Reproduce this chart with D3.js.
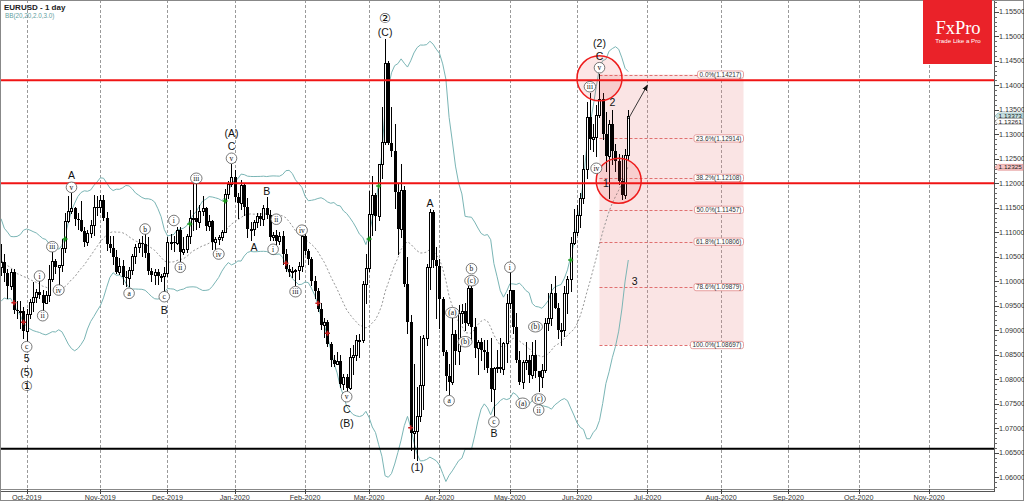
<!DOCTYPE html>
<html><head><meta charset="utf-8">
<script src="https://cdn.jsdelivr.net/npm/d3@7"></script>
<style>html,body{margin:0;padding:0;background:#fff;overflow:hidden}svg{display:block}</style>
</head><body><svg id="c" width="1024" height="501"></svg>
<script>
// ---------------- DATA ----------------
const title = "EURUSD - 1 day";
const indicatorLabel = "BB(20,20,2.0,3.0)";
const firstCandleDate = "2019-09-18";
const holidays = ["2019-12-25", "2020-01-01", "2020-12-25"];

// closes before the first visible candle (only used for the 20-day bands)
const warmupClose = [1.1098,1.1080,1.1143,1.1096,1.1090,1.1078,1.1057,1.0989,1.0970,1.0973,1.1033,1.1034,1.1027,1.1045,1.1043,1.1010,1.1063,1.1073,1.1000,1.1073];

const openP = [
  1.1070,1.1028,1.1040,1.1017,1.0991,1.1019,1.0941,1.0939,1.0940,
  1.0898,1.0933,1.0958,1.0967,1.0978,1.0972,1.0956,1.0971,1.1005,1.1042,1.1030,1.1033,1.1068,1.1123,1.1143,1.1150,1.1126,1.1124,1.1103,1.1080,1.1098,1.1114,1.1152,
  1.1151,1.1166,1.1128,1.1075,1.1067,1.1050,1.1018,1.1032,1.1008,1.1006,1.1022,1.1052,1.1070,1.1077,1.1075,1.1057,1.1020,1.1013,1.1018,1.1010,1.1010,
  1.1017,1.1079,1.1081,1.1077,1.1104,1.1059,1.1065,1.1093,1.1129,1.1130,1.1120,1.1143,1.1149,1.1112,1.1123,1.1080,1.1087,1.1090,1.1100,1.1177,1.1199,
  1.1213,1.1172,1.1160,1.1196,1.1152,1.1106,1.1107,1.1120,1.1134,1.1127,1.1150,1.1136,1.1090,1.1095,1.1083,1.1092,1.1055,1.1025,1.1019,1.1020,1.1022,1.1032,
  1.1093,1.1061,1.1046,1.1000,1.0980,1.0944,1.0910,1.0917,1.0872,1.0840,1.0830,1.0838,1.0790,1.0805,1.0782,1.0846,1.0850,1.0880,1.0880,1.0995,
  1.1026,1.1137,1.1175,1.1134,1.1240,1.1285,1.1446,1.1283,1.1265,1.1182,1.1107,1.1187,1.0995,1.0916,1.0690,1.0695,1.0724,1.0789,1.0885,1.1030,1.1141,1.1044,
  1.1031,1.0963,1.0855,1.0806,1.0794,1.0892,1.0857,1.0936,1.0939,1.0914,1.0986,1.0906,1.0863,1.0875,1.0860,1.0855,1.0822,1.0780,1.0822,1.0825,1.0820,1.0873,
  1.0955,1.0982,1.0907,1.0840,1.0795,1.0835,1.0840,1.0808,1.0849,1.0817,1.0805,1.0819,1.0915,1.0925,1.0976,1.0946,1.0900,1.0900,1.0975,1.1005,1.1078,
  1.1100,1.1135,1.1170,1.1230,1.1335,1.1290,1.1295,1.1340,1.1372,1.1300,1.1255,1.1320,1.1265,1.1245,1.1205,1.1175,1.1257
];
const highP = [
  1.1075,1.1075,1.1055,1.1025,1.1025,1.1025,1.0960,1.0960,1.0948,
  1.0943,1.0963,1.0999,1.0985,1.1000,1.0983,1.0980,1.1034,1.1063,1.1046,1.1033,1.1086,1.1140,1.1173,1.1179,1.1152,1.1140,1.1163,1.1110,1.1105,1.1125,1.1175,1.1174,
  1.1176,1.1176,1.1142,1.1092,1.1092,1.1063,1.1047,1.1043,1.1020,1.1030,1.1056,1.1076,1.1087,1.1092,1.1097,1.1090,1.1026,1.1025,1.1024,1.1015,1.1030,
  1.1090,1.1097,1.1092,1.1110,1.1110,1.1090,1.1097,1.1145,1.1200,1.1200,1.1155,1.1174,1.1151,1.1135,1.1125,1.1090,1.1095,1.1105,1.1188,1.1205,1.1240,
  1.1227,1.1180,1.1207,1.1200,1.1170,1.1120,1.1125,1.1140,1.1140,1.1155,1.1172,1.1145,1.1100,1.1105,1.1100,1.1102,1.1065,1.1033,1.1030,1.1025,1.1040,1.1096,
  1.1098,1.1065,1.1050,1.1010,1.0986,1.0955,1.0925,1.0920,1.0875,1.0850,1.0855,1.0850,1.0810,1.0810,1.0863,1.0870,1.0890,1.0892,1.1000,1.1055,
  1.1185,1.1214,1.1180,1.1240,1.1355,1.1495,1.1450,1.1355,1.1320,1.1200,1.1240,1.1195,1.1050,1.0930,1.0832,1.0784,1.0888,1.0890,1.1035,1.1148,1.1146,1.1070,
  1.1046,1.0967,1.0860,1.0830,1.0925,1.0900,1.0952,1.0954,1.0955,1.0990,1.0990,1.0925,1.0880,1.0885,1.0880,1.0880,1.0885,1.0825,1.0860,1.0885,1.0875,1.0973,
  1.1019,1.0982,1.0935,1.0857,1.0840,1.0875,1.0850,1.0875,1.0880,1.0817,1.0830,1.0925,1.0975,1.0995,1.1010,1.0955,1.0915,1.0990,1.1010,1.1090,1.1147,
  1.1155,1.1180,1.1258,1.1365,1.1385,1.1320,1.1360,1.1422,1.1385,1.1345,1.1328,1.1350,1.1280,1.1260,1.1257,1.1270,1.1349
];
const lowP = [
  1.1013,1.1013,1.1000,1.0966,1.0985,1.0935,1.0925,1.0905,1.0885,
  1.0879,1.0925,1.0940,1.0957,1.0965,1.0940,1.0955,1.0960,1.1000,1.1017,1.0990,1.1020,1.1060,1.1121,1.1140,1.1115,1.1106,1.1103,1.1071,1.1073,1.1090,1.1095,1.1135,
  1.1141,1.1125,1.1064,1.1060,1.1036,1.1016,1.1014,1.0995,1.0990,1.0990,1.1014,1.1037,1.1060,1.1051,1.1050,1.1015,1.1000,1.0995,1.0995,1.1000,1.0981,
  1.1010,1.1066,1.1062,1.1075,1.1040,1.1055,1.1060,1.1077,1.1105,1.1106,1.1110,1.1135,1.1105,1.1105,1.1066,1.1064,1.1075,1.1085,1.1100,1.1170,1.1195,
  1.1163,1.1128,1.1147,1.1135,1.1090,1.1085,1.1095,1.1110,1.1115,1.1115,1.1130,1.1085,1.1085,1.1075,1.1075,1.1036,1.1020,1.1010,1.1008,1.0992,1.1005,1.1020,
  1.1055,1.1035,1.0993,1.0965,1.0940,1.0903,1.0886,1.0868,1.0826,1.0826,1.0830,1.0785,1.0780,1.0778,1.0780,1.0810,1.0840,1.0845,1.0875,1.0955,
  1.1020,1.1095,1.1104,1.1125,1.1210,1.1280,1.1280,1.1255,1.1150,1.1055,1.1090,1.0990,1.0895,1.0655,1.0640,1.0636,1.0715,1.0740,1.0870,1.0985,1.1030,1.0925,
  1.0905,1.0850,1.0778,1.0770,1.0790,1.0830,1.0830,1.0915,1.0900,1.0910,1.0880,1.0845,1.0810,1.0840,1.0820,1.0815,1.0755,1.0727,1.0815,1.0815,1.0810,1.0835,
  1.0945,1.0895,1.0835,1.0790,1.0782,1.0820,1.0795,1.0803,1.0805,1.0775,1.0785,1.0815,1.0900,1.0910,1.0945,1.0885,1.0870,1.0888,1.0935,1.0980,1.1075,
  1.1095,1.1110,1.1160,1.1210,1.1270,1.1265,1.1255,1.1335,1.1290,1.1225,1.1170,1.1240,1.1225,1.1198,1.1168,1.1170,1.1250
];
const closeP = [
  1.1028,1.1040,1.1017,1.0991,1.1019,1.0941,1.0939,1.0940,1.0898,
  1.0933,1.0958,1.0967,1.0978,1.0972,1.0956,1.0971,1.1005,1.1042,1.1030,1.1033,1.1068,1.1123,1.1143,1.1150,1.1126,1.1124,1.1103,1.1080,1.1098,1.1114,1.1152,1.1151,
  1.1166,1.1128,1.1075,1.1067,1.1050,1.1018,1.1032,1.1008,1.1006,1.1022,1.1052,1.1070,1.1077,1.1075,1.1057,1.1020,1.1013,1.1018,1.1010,1.1010,1.1017,
  1.1079,1.1081,1.1077,1.1104,1.1059,1.1065,1.1093,1.1129,1.1130,1.1120,1.1143,1.1149,1.1112,1.1123,1.1080,1.1087,1.1090,1.1100,1.1177,1.1199,1.1213,
  1.1172,1.1160,1.1196,1.1152,1.1106,1.1107,1.1120,1.1134,1.1127,1.1150,1.1136,1.1090,1.1095,1.1083,1.1092,1.1055,1.1025,1.1019,1.1020,1.1022,1.1032,1.1093,
  1.1061,1.1046,1.1000,1.0980,1.0944,1.0910,1.0917,1.0872,1.0840,1.0830,1.0838,1.0790,1.0805,1.0782,1.0846,1.0850,1.0880,1.0880,1.0995,1.1026,
  1.1137,1.1175,1.1134,1.1240,1.1285,1.1446,1.1283,1.1265,1.1182,1.1107,1.1187,1.0995,1.0916,1.0690,1.0695,1.0724,1.0789,1.0885,1.1030,1.1141,1.1044,1.1031,
  1.0963,1.0855,1.0806,1.0794,1.0892,1.0857,1.0936,1.0939,1.0914,1.0986,1.0906,1.0863,1.0875,1.0860,1.0855,1.0822,1.0780,1.0822,1.0825,1.0820,1.0873,1.0955,
  1.0982,1.0907,1.0840,1.0795,1.0835,1.0840,1.0808,1.0849,1.0817,1.0805,1.0819,1.0915,1.0925,1.0976,1.0946,1.0900,1.0900,1.0975,1.1005,1.1078,1.1100,
  1.1135,1.1170,1.1230,1.1335,1.1290,1.1295,1.1340,1.1372,1.1300,1.1255,1.1320,1.1265,1.1245,1.1205,1.1175,1.1257,1.1337
];

// axes
const priceTicks = [1.060,1.065,1.070,1.075,1.080,1.085,1.090,1.095,1.100,1.105,1.110,1.115,1.120,1.125,1.130,1.135,1.140,1.145,1.150,1.155];
const monthTicks = ["2019-10","2019-11","2019-12","2020-01","2020-02","2020-03","2020-04","2020-05","2020-06","2020-07","2020-08","2020-09","2020-10","2020-11"];
const monthLabels = ["Oct-2019","Nov-2019","Dec-2019","Jan-2020","Feb-2020","Mar-2020","Apr-2020","May-2020","Jun-2020","Jul-2020","Aug-2020","Sep-2020","Oct-2020","Nov-2020"];
const barView = [0.66, 311.28];            // visible bar-index window
const priceView = [1.05759, 1.15739];      // visible price window

// horizontal levels
const resistanceLevels = [1.1410, 1.1200];
const supportLevels = [1.0658];

// Fibonacci retracement
const fibRatios = [0, 0.236, 0.382, 0.5, 0.618, 0.786, 1.0];
const fibPrices = [1.14217, 1.12914, 1.12108, 1.11457, 1.10806, 1.09879, 1.08697];
const fibStart = "2020-06-10", fibEnd = "2020-08-12";

// right-axis price markers
const markerPrices = [1.13373, 1.13261, 1.12325];
const markerKinds = ["bid", "ask", "alert"];

// highlight circles and projection arrow
const circleDates = ["2020-06-10", "2020-06-18"];
const circlePrices = [1.14141, 1.12051];
const arrowDates = ["2020-06-23", "2020-07-01"];
const arrowPrices = [1.1331, 1.14004];

// signal crosses
const signalDates = ["2019-09-25","2019-09-30","2019-10-17","2019-12-11","2019-12-27","2020-01-24","2020-02-07","2020-02-12","2020-03-02","2020-03-05","2020-03-19","2020-05-28"];
const signalPrices = [1.09561,1.09161,1.10861,1.11167,1.11637,1.10365,1.09549,1.08937,1.10861,1.11943,1.07010,1.10433];
const signalKinds = ["sell","sell","buy","buy","buy","sell","sell","sell","buy","buy","sell","buy"];

// wave labels (plain)
const waveText  = ["5","(5)","①","A","B","C","(A)","A","B","C","(B)","②","(C)","(1)","A","B","(2)","C","2","1","3"];
const waveDates = ["2019-10-01","2019-10-01","2019-10-01","2019-10-21","2019-11-29","2019-12-31","2019-12-31","2020-01-10","2020-01-16","2020-02-20","2020-02-20","2020-03-09","2020-03-09","2020-03-23","2020-03-27","2020-04-24","2020-06-10","2020-06-10","2020-06-16","2020-06-12","2020-06-25"];
const wavePrices = [1.08433,1.08147,1.07861,1.12167,1.09422,1.12759,1.13024,1.10698,1.11847,1.07398,1.07112,1.15371,1.15086,1.06214,1.11590,1.06902,1.14861,1.14606,1.13663,1.11998,1.10004];

// wave labels (circled)
const subText  = ["c","i","ii","iii","iv","v","a","b","c","i","ii","iii","iv","v","ii","i","iii","iv","v","(a)","a","(b)","b","(c)","c","i","(a)","(b)","(c)","ii","v","iii","iv"];
const subDates = ["2019-10-01","2019-10-07","2019-10-08","2019-10-11","2019-10-15","2019-10-21","2019-11-14","2019-11-21","2019-11-29","2019-12-04","2019-12-06","2019-12-13","2019-12-24","2019-12-31","2020-01-21","2020-01-20","2020-01-29","2020-01-31","2020-02-20","2020-04-07","2020-04-06","2020-04-13","2020-04-15","2020-04-15","2020-04-24","2020-05-01","2020-05-07","2020-05-13","2020-05-14","2020-05-14","2020-06-10","2020-06-05","2020-06-09"];
const subPrices = [1.08663,1.10106,1.09296,1.10704,1.09820,1.11916,1.09753,1.11065,1.09684,1.11239,1.10284,1.12100,1.10555,1.12508,1.11265,1.10651,1.09786,1.11041,1.07643,1.09357,1.07561,1.08765,1.10255,1.10010,1.07129,1.10284,1.07508,1.09071,1.07596,1.07371,1.14357,1.13969,1.12304];

// ---------------- CALENDAR ----------------
const fmt = d3.utcFormat("%Y-%m-%d");
const calendar = d3.utcDay.range(new Date("2019-09-18T00:00:00Z"), new Date("2020-12-31T00:00:00Z"))
  .filter(d => d.getUTCDay() !== 0 && d.getUTCDay() !== 6 && !holidays.includes(fmt(d)));
const idx = new Map(calendar.map((d, i) => [fmt(d), i]));
const i0 = idx.get(firstCandleDate);

// ---------------- SCALES ----------------
const plotR = 994, plotB = 489;
const x = d3.scaleLinear().domain(barView).range([0, plotR]);
const y = d3.scaleLinear().domain(priceView).range([plotB, 0]);
const X = d => x(idx.get(d));

const svg = d3.select("#c");
svg.append("rect").attr("width", 1024).attr("height", 501).attr("fill", "#fff");
svg.append("defs").append("clipPath").attr("id", "plot")
  .append("rect").attr("x", 0).attr("y", 0).attr("width", plotR).attr("height", plotB);
const plot = svg.append("g").attr("clip-path", "url(#plot)");

// month grid
const monthIdx = monthTicks.map(m => calendar.findIndex(d => fmt(d).startsWith(m)));
plot.append("g").selectAll("line").data(monthIdx).join("line")
  .attr("x1", d => Math.round(x(d)) + 0.5).attr("x2", d => Math.round(x(d)) + 0.5)
  .attr("y1", 0).attr("y2", plotB)
  .attr("stroke", "#9a9a9a").attr("stroke-width", 1).attr("stroke-dasharray", "3,2");

// Fibonacci box
const fx0 = X(fibStart), fx1 = X(fibEnd);
plot.append("rect").attr("x", fx0).attr("y", y(fibPrices[0]))
  .attr("width", fx1 - fx0).attr("height", y(fibPrices[fibPrices.length - 1]) - y(fibPrices[0]))
  .attr("fill", "rgba(232,130,130,0.22)");
plot.append("g").selectAll("line").data(fibPrices).join("line")
  .attr("x1", fx0).attr("x2", fx1)
  .attr("y1", d => Math.round(y(d)) + 0.5).attr("y2", d => Math.round(y(d)) + 0.5)
  .attr("stroke", "#e07070").attr("stroke-width", 1).attr("stroke-dasharray", "3,2");

// Bollinger bands (20, 2.0) from closes
const allClose = warmupClose.concat(closeP);
const bands = closeP.map((c, i) => {
  const w = allClose.slice(i + warmupClose.length - 19, i + warmupClose.length + 1);
  const m = d3.mean(w);
  const sd = Math.sqrt(d3.mean(w, v => (v - m) * (v - m)));
  return { i: i0 + i, mid: m, up: m + 2 * sd, lo: m - 2 * sd };
});
const bandLine = key => d3.line().x(d => x(d.i)).y(d => y(d[key]));
plot.append("path").datum(bands).attr("d", bandLine("up")).attr("fill", "none").attr("stroke", "#7ab5b5").attr("stroke-width", 1);
plot.append("path").datum(bands).attr("d", bandLine("lo")).attr("fill", "none").attr("stroke", "#7ab5b5").attr("stroke-width", 1);
plot.append("path").datum(bands).attr("d", bandLine("mid")).attr("fill", "none").attr("stroke", "#8a8a8a").attr("stroke-width", 0.9).attr("stroke-dasharray", "2,2");

// candles
const candles = closeP.map((c, i) => ({ i: i0 + i, o: openP[i], h: highP[i], l: lowP[i], c }));
const cg = plot.append("g").attr("shape-rendering", "crispEdges");
const cx = d => Math.round(x(d.i));
cg.selectAll("line").data(candles).join("line")
  .attr("x1", d => cx(d) + 0.5).attr("x2", d => cx(d) + 0.5)
  .attr("y1", d => Math.round(y(d.h))).attr("y2", d => Math.round(y(d.l)) + 1)
  .attr("stroke", "#000").attr("stroke-width", 1);
cg.selectAll("rect").data(candles).join("rect")
  .attr("x", d => d.c >= d.o ? cx(d) - 0.5 : cx(d) - 1)
  .attr("y", d => Math.round(y(Math.max(d.o, d.c))) + (d.c >= d.o ? 0.5 : 0))
  .attr("width", d => d.c >= d.o ? 2 : 3)
  .attr("height", d => Math.max(1, Math.round(y(Math.min(d.o, d.c))) - Math.round(y(Math.max(d.o, d.c)))))
  .attr("fill", d => d.c >= d.o ? "#fff" : "#000")
  .attr("stroke", d => d.c >= d.o ? "#000" : "none").attr("stroke-width", 1);

// horizontal levels
plot.append("g").selectAll("line").data(resistanceLevels).join("line")
  .attr("x1", 0).attr("x2", plotR).attr("y1", d => y(d)).attr("y2", d => y(d))
  .attr("stroke", "#f01414").attr("stroke-width", 2);
plot.append("g").selectAll("line").data(supportLevels).join("line")
  .attr("x1", 0).attr("x2", plotR).attr("y1", d => y(d)).attr("y2", d => y(d))
  .attr("stroke", "#000").attr("stroke-width", 2);

// signals
plot.append("g").selectAll("path").data(signalDates).join("path")
  .attr("transform", (d, i) => `translate(${X(d)},${y(signalPrices[i])})`)
  .attr("d", "M-2.5,0H2.5M0,-2.5V2.5")
  .attr("stroke", (d, i) => signalKinds[i] === "buy" ? "#1a9a1a" : "#c81e1e").attr("stroke-width", 1.6);

// highlight circles
plot.append("g").selectAll("circle").data(circleDates).join("circle")
  .attr("cx", d => X(d)).attr("cy", (d, i) => y(circlePrices[i])).attr("r", 22.5)
  .attr("fill", "rgba(240,60,60,0.13)").attr("stroke", "#ee1c1c").attr("stroke-width", 1.5);

// arrow
svg.append("defs").append("marker").attr("id", "ah").attr("viewBox", "0 0 10 10")
  .attr("refX", 9).attr("refY", 5).attr("markerWidth", 7).attr("markerHeight", 7).attr("orient", "auto")
  .append("path").attr("d", "M0,1L10,5L0,9Z").attr("fill", "#111");
plot.append("line").attr("x1", X(arrowDates[0])).attr("y1", y(arrowPrices[0]))
  .attr("x2", X(arrowDates[1])).attr("y2", y(arrowPrices[1]))
  .attr("stroke", "#222").attr("stroke-width", 0.9).attr("marker-end", "url(#ah)");

// Fib labels
const fl = plot.append("g");
fibPrices.forEach((p, k) => {
  const t = fl.append("text").attr("x", fx1 - 2).attr("y", y(p) + 2.3)
    .attr("text-anchor", "end").attr("font-family", "Liberation Sans, Arial, sans-serif")
    .attr("font-size", 6.4).attr("fill", "#333")
    .text(`${(fibRatios[k] * 100).toFixed(1)}%(${p.toFixed(5)})`);
  const w = t.node().getComputedTextLength();
  fl.insert("rect", "text").attr("x", fx1 - w - 4).attr("y", y(p) - 3.6).attr("width", w + 4).attr("height", 7.2)
    .attr("rx", 2).attr("fill", "#fff").attr("stroke", "#e08a8a").attr("stroke-width", 0.8);
});

// wave labels
const ag = plot.append("g");
waveText.forEach((t, k) => {
  const circ = t === "①" || t === "②";
  ag.append("text").attr("x", X(waveDates[k])).attr("y", y(wavePrices[k]))
    .attr("text-anchor", "middle").attr("dominant-baseline", "central")
    .attr("font-family", circ ? "DejaVu Sans, sans-serif" : "Liberation Sans, Arial, sans-serif")
    .attr("font-size", circ ? 13.5 : 10.5).attr("fill", "#111").text(t);
});
subText.forEach((t, k) => {
  const g = ag.append("g").attr("transform", `translate(${X(subDates[k])},${y(subPrices[k])})`);
  const e = g.append("ellipse").attr("fill", "#fff").attr("stroke", "#555").attr("stroke-width", 0.8);
  const tx = g.append("text").attr("text-anchor", "middle").attr("dominant-baseline", "central")
    .attr("font-family", "Liberation Serif, Times New Roman, serif").attr("font-size", 7.5).attr("fill", "#111").text(t);
  const w = tx.node().getComputedTextLength();
  e.attr("rx", Math.max(5.3, w / 2 + 2.6)).attr("ry", 5.3);
});

// frame & axes
svg.append("rect").attr("x", 0.5).attr("y", 0.5).attr("width", plotR).attr("height", plotB)
  .attr("fill", "none").attr("stroke", "#888").attr("stroke-width", 1);
svg.append("line").attr("x1", 0).attr("x2", plotR).attr("y1", plotB + 2.5).attr("y2", plotB + 2.5).attr("stroke", "#555");
svg.append("line").attr("x1", plotR + 0.5).attr("x2", plotR + 0.5).attr("y1", 0).attr("y2", plotB + 3).attr("stroke", "#555");
svg.append("rect").attr("x", 0.5).attr("y", 0.5).attr("width", 1023).attr("height", 500)
  .attr("fill", "none").attr("stroke", "#888");

// right axis
const ra = svg.append("g").attr("shape-rendering", "crispEdges");
const minor = d3.range(Math.ceil(priceView[0] * 1000), Math.floor(priceView[1] * 1000) + 1).map(v => v / 1000);
ra.selectAll("line.mi").data(minor).join("line").attr("class", "mi")
  .attr("x1", plotR).attr("x2", plotR + 3).attr("y1", d => Math.round(y(d)) + 0.5).attr("y2", d => Math.round(y(d)) + 0.5)
  .attr("stroke", "#666");
ra.selectAll("line.ma").data(priceTicks).join("line").attr("class", "ma")
  .attr("x1", plotR).attr("x2", plotR + 5).attr("y1", d => Math.round(y(d)) + 0.5).attr("y2", d => Math.round(y(d)) + 0.5)
  .attr("stroke", "#444");
svg.append("g").selectAll("text").data(priceTicks).join("text")
  .attr("x", plotR + 5).attr("y", d => y(d) + 2.5)
  .attr("font-family", "Liberation Sans, Arial, sans-serif").attr("font-size", 7.2).attr("fill", "#333")
  .text(d => d.toFixed(5));

// right price markers
const mk = { bid: ["#c6dfe0", "#8fb8ba"], ask: ["#ffffff", "#999"], alert: ["#f6c4c4", "#e08c8c"] };
markerPrices.forEach((p, k) => {
  const yc = y(p), c = mk[markerKinds[k]];
  svg.append("path").attr("d", `M${plotR + 1},${yc}L${plotR + 4},${yc - 2.9}H1023V${yc + 2.9}H${plotR + 4}Z`)
    .attr("fill", c[0]).attr("stroke", c[1]).attr("stroke-width", 0.7);
});
markerPrices.forEach((p, k) => {
  svg.append("text").attr("x", plotR + 4.5).attr("y", y(p) + 2.1)
    .attr("font-family", "Liberation Sans, Arial, sans-serif").attr("font-size", 6)
    .attr("textLength", 23.5).attr("lengthAdjust", "spacingAndGlyphs")
    .attr("fill", "#222").text(p.toFixed(5));
});

// bottom axis
const ba = svg.append("g");
monthIdx.forEach((mi, k) => {
  const xx = Math.round(x(mi)) + 0.5;
  ba.append("line").attr("x1", xx).attr("x2", xx).attr("y1", plotB).attr("y2", plotB + 5).attr("stroke", "#444");
  ba.append("text").attr("x", x(mi)).attr("y", 499.5).attr("text-anchor", "middle")
    .attr("font-family", "Liberation Sans, Arial, sans-serif").attr("font-size", 7.2).attr("fill", "#333").text(monthLabels[k]);
});

// title
svg.append("text").attr("x", 4).attr("y", 9.5).attr("font-family", "Liberation Sans, Arial, sans-serif")
  .attr("font-size", 8).attr("font-weight", "bold").attr("fill", "#222").text(title);
svg.append("text").attr("x", 5).attr("y", 17.5).attr("font-family", "Liberation Sans, Arial, sans-serif")
  .attr("font-size", 6.3).attr("fill", "#5f9ea0").text(indicatorLabel);

// logo
const lg = svg.append("g");
lg.append("rect").attr("x", 923).attr("y", 0).attr("width", 69).attr("height", 64).attr("fill", "#ea2229");
lg.append("text").attr("x", 958).attr("y", 34).attr("text-anchor", "middle").attr("font-family", "Liberation Serif, Times New Roman, serif")
  .attr("font-size", 18.5).attr("fill", "#fff").text("FxPro");
lg.append("text").attr("x", 958).attr("y", 43).attr("text-anchor", "middle").attr("font-family", "Liberation Sans, Arial, sans-serif")
  .attr("font-size", 6.2).attr("fill", "#fff").text("Trade Like a Pro");
</script></body></html>
